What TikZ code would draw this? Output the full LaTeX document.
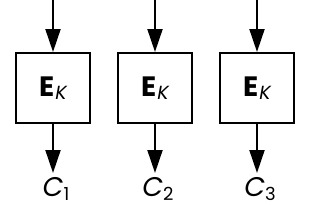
\documentclass[tikz,border=0pt]{standalone}
\usepackage{fontspec}
\setmainfont{Poppins}
\usetikzlibrary{arrows.meta,positioning}
\tikzset{
  cipher/.style = {draw, line width = 2pt, minimum width = 74pt,
                   minimum height = 70pt, inner sep = 0pt},
  flow/.style = {line width = 2pt, -{Triangle[length = 23pt, width = 15pt]}},
  cipherlabel/.style = {anchor = north, inner sep = 0pt,
                        font = \fontsize{27}{27}\selectfont\itshape}
}
\newcommand{\ek}{\fontsize{28}{28}\selectfont\textbf{E}\kern1pt%
  \raisebox{-3pt}{\fontsize{19}{19}\selectfont\itshape K}}
\newcommand{\ci}[1]{C\raisebox{-4pt}{\fontsize{18}{18}\selectfont\upshape #1}}
\begin{document}
\begin{tikzpicture}[x = 1pt, y = -1pt]
      \useasboundingbox (0,0) rectangle (311,204);
      \node [cipher] (box1) at (53,88) {\ek};
      \node [cipher] (box2) at (155,88) {\ek};
      \node [cipher] (box3) at (257,88) {\ek};
      \coordinate (in1) at (53,0);
      \coordinate (in2) at (155,0);
      \coordinate (in3) at (257,0);
      \node [cipherlabel] (c1) at (56,177) {\ci{1}};
      \node [cipherlabel] (c2) at (158,177) {\ci{2}};
      \node [cipherlabel] (c3) at (260,177) {\ci{3}};
      \draw [flow] (in1) -- (box1);
      \draw [flow] (in2) -- (box2);
      \draw [flow] (in3) -- (box3);
      \draw [flow, shorten > = 4pt] (box1) -- (box1 |- c1.north);
      \draw [flow, shorten > = 4pt] (box2) -- (box2 |- c2.north);
      \draw [flow, shorten > = 4pt] (box3) -- (box3 |- c3.north);
    \end{tikzpicture}
\end{document}
